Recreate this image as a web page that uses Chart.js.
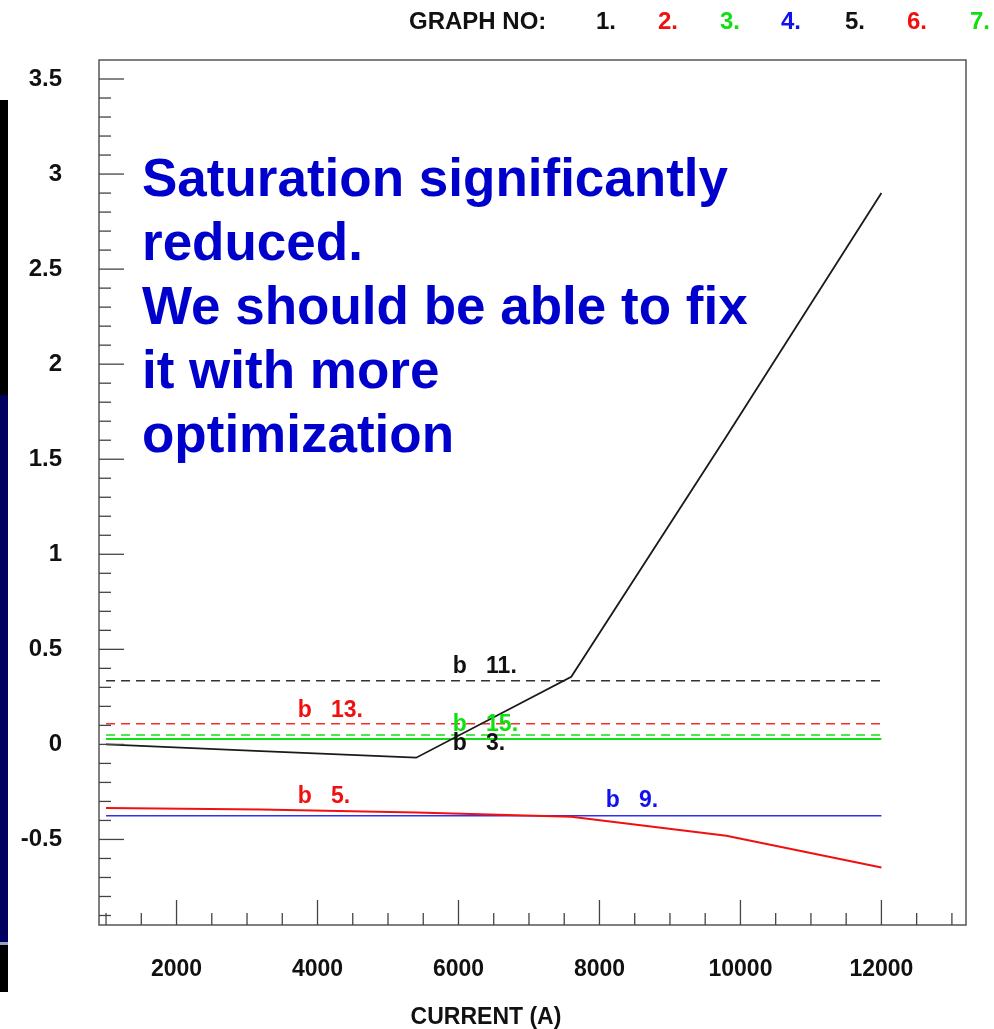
<!DOCTYPE html>
<html>
<head>
<meta charset="utf-8">
<script src="https://cdn.jsdelivr.net/npm/chart.js@4.4.1/dist/chart.umd.min.js"></script>
<style>
html, body { margin: 0; padding: 0; background: #fff; }
#cadre { position: relative; width: 994px; height: 1029px; overflow: hidden; }
.bande { position: absolute; left: 0; width: 8px; }
</style>
</head>
<body>
<div id="cadre">
    <canvas id="graphe" width="994" height="1029"></canvas>
    <div class="bande" style="top:100px;height:295px;background:#000;"></div>
    <div class="bande" style="top:395px;height:547px;background:#000060;"></div>
    <div class="bande" style="top:942px;height:3px;background:#9aa0c0;"></div>
    <div class="bande" style="top:945px;height:47px;background:#000;"></div>
</div>
<script>
// courant (A) et valeurs
var courant  = [1000, 3200, 5400, 7600, 9800, 12000];
var graphe1 = [0.0, -0.035, -0.07, 0.356, 1.62, 2.9];          // noir plein
var graphe2 = [-0.335, -0.342, -0.358, -0.38, -0.48, -0.647];  // rouge plein
var graphe3 = [0.029, 0.029, 0.029, 0.029, 0.029, 0.029];      // vert plein
var graphe4 = [-0.375, -0.375, -0.375, -0.375, -0.375, -0.375];// bleu plein
var graphe5 = [0.335, 0.335, 0.335, 0.335, 0.335, 0.335];      // noir tirets
var graphe6 = [0.109, 0.109, 0.109, 0.109, 0.109, 0.109];      // rouge tirets
var graphe7 = [0.05, 0.05, 0.05, 0.05, 0.05, 0.05];            // vert tirets

// graduations
var xLabels = [2000, 4000, 6000, 8000, 10000, 12000];
var yLabels = [-0.5, 0, 0.5, 1, 1.5, 2, 2.5, 3, 3.5];

// étiquettes "b n." placées en coordonnées des données
var etiquettes = ['b   11.', 'b   13.', 'b   15.', 'b   3.', 'b   5.', 'b   9.'];
var etiqX = [5920, 3720, 5920, 5920, 3720, 8090];
var etiqY = [0.377, 0.146, 0.0725, -0.027, -0.306, -0.327];
var etiqCouleur = ['#111', '#f01010', '#10e010', '#111', '#f01010', '#1010f0'];

var legendeNums = ['1.', '2.', '3.', '4.', '5.', '6.', '7.'];
var legendeCouleurs = ['#111', '#f01010', '#10e010', '#1010f0', '#111', '#f01010', '#10e010'];

var messageLignes = ['Saturation significantly', 'reduced.', 'We should be able to fix', 'it with more', 'optimization'];

var POLICE = '"Liberation Sans", Arial, Helvetica, sans-serif';

function points(vals) {
    return courant.map(function(c, i) { return { x: c, y: vals[i] }; });
}

function serie(vals, couleur, epaisseur, tirets) {
    return {
        data: points(vals),
        borderColor: couleur,
        borderWidth: epaisseur,
        borderDash: tirets || [],
        pointRadius: 0,
        tension: 0,
        fill: false
    };
}

var decor = {
    id: 'decor',
    afterDatasetsDraw: function(chart) {
        var ctx = chart.ctx;
        var a = chart.chartArea;
        var sx = chart.scales.x, sy = chart.scales.y;
        ctx.save();

        // cadre
        ctx.strokeStyle = '#555';
        ctx.lineWidth = 1.5;
        ctx.strokeRect(a.left, a.top, a.right - a.left, a.bottom - a.top);

        // graduations intérieures
        ctx.lineWidth = 1.3;
        ctx.strokeStyle = '#444';
        sy.ticks.forEach(function(t) {
            var k = Math.round(t.value * 10);
            var py = sy.getPixelForValue(t.value);
            var lg = (k % 5 === 0) ? 25 : 12;
            ctx.beginPath(); ctx.moveTo(a.left, py); ctx.lineTo(a.left + lg, py); ctx.stroke();
        });
        sx.ticks.forEach(function(t) {
            var px = sx.getPixelForValue(t.value);
            var lg = (t.value % 2000 === 0) ? 25 : 12;
            ctx.beginPath(); ctx.moveTo(px, a.bottom); ctx.lineTo(px, a.bottom - lg); ctx.stroke();
        });

        // étiquettes des courbes
        ctx.font = 'bold 23px ' + POLICE;
        ctx.textAlign = 'left';
        ctx.textBaseline = 'alphabetic';
        etiquettes.forEach(function(txt, i) {
            ctx.fillStyle = etiqCouleur[i];
            ctx.fillText(txt, sx.getPixelForValue(etiqX[i]), sy.getPixelForValue(etiqY[i]));
        });

        // message
        ctx.fillStyle = '#0000cc';
        ctx.font = 'bold 53px ' + POLICE;
        messageLignes.forEach(function(l, i) {
            ctx.fillText(l, 142, 196 + i * 64);
        });

        // légende du haut
        ctx.font = 'bold 24px ' + POLICE;
        ctx.fillStyle = '#111';
        ctx.fillText('GRAPH NO:', 409, 29);
        var xs = [596, 658, 720, 781, 845, 907, 970];
        legendeNums.forEach(function(n, i) {
            ctx.fillStyle = legendeCouleurs[i];
            ctx.fillText(n, xs[i], 29);
        });

        // titre de l'axe x
        ctx.fillStyle = '#111';
        ctx.font = 'bold 23px ' + POLICE;
        ctx.textAlign = 'center';
        ctx.fillText('CURRENT (A)', 486, 1024);
        ctx.restore();
    }
};

document.addEventListener("DOMContentLoaded", function() {
    var ctx = document.getElementById('graphe').getContext('2d');

    new Chart(ctx, {
        type: 'line',
        data: {
            datasets: [
                serie(graphe1, '#1a1a1a', 1.8),
                serie(graphe2, '#f01010', 2),
                serie(graphe3, '#10e010', 2),
                serie(graphe4, '#3030f0', 1.6),
                serie(graphe5, '#333', 1.6, [9, 6]),
                serie(graphe6, '#f03030', 1.5, [9, 6]),
                serie(graphe7, '#10e010', 1.5, [9, 6])
            ]
        },
        options: {
            responsive: false,
            animation: false,
            layout: { padding: { top: 60, right: 28, left: 0, bottom: 0 } },
            plugins: { legend: { display: false }, tooltip: { enabled: false } },
            scales: {
                x: {
                    type: 'linear',
                    min: 900,
                    max: 13200,
                    afterFit: function(s) { s.height = 104; },
                    afterBuildTicks: function(s) {
                        var t = [];
                        for (var v = 1000; v <= 13000; v += 500) t.push({ value: v });
                        s.ticks = t;
                    },
                    grid: { display: false, drawTicks: false },
                    border: { display: false },
                    ticks: {
                        autoSkip: false,
                        maxRotation: 0,
                        padding: 31,
                        color: '#111',
                        font: { family: POLICE, size: 23, weight: 'bold' },
                        callback: function(v) {
                            return xLabels.indexOf(v) >= 0 ? String(v) : '';
                        }
                    }
                },
                y: {
                    type: 'linear',
                    min: -0.95,
                    max: 3.6,
                    afterFit: function(s) { s.width = 99; },
                    afterBuildTicks: function(s) {
                        var t = [];
                        for (var k = -9; k <= 35; k++) t.push({ value: k / 10 });
                        s.ticks = t;
                    },
                    grid: { display: false, drawTicks: false },
                    border: { display: false },
                    ticks: {
                        autoSkip: false,
                        padding: 37,
                        color: '#111',
                        font: { family: POLICE, size: 24, weight: 'bold' },
                        callback: function(v) {
                            return yLabels.indexOf(v) >= 0 ? String(v) : '';
                        }
                    }
                }
            }
        },
        plugins: [decor]
    });
});
</script>
</body>
</html>
